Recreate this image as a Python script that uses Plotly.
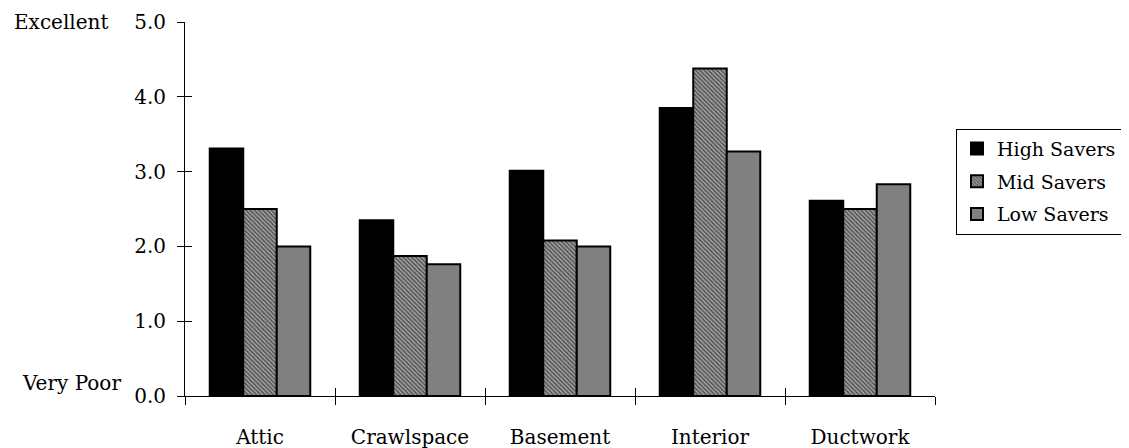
import plotly.graph_objects as go

categories = ['Attic', 'Crawlspace', 'Basement', 'Interior', 'Ductwork']
high_savers = [3.31, 2.35, 3.01, 3.85, 2.61]
mid_savers = [2.50, 1.87, 2.08, 4.38, 2.50]
low_savers = [2.00, 1.76, 2.00, 3.27, 2.83]
y_ticks = [0, 1, 2, 3, 4, 5]

font_name = 'DejaVu Serif'
edge = dict(color='black', width=2)

fig = go.Figure()
fig.add_trace(go.Bar(
    name='High Savers', x=categories, y=high_savers, legendgroup='high',
    marker=dict(color='black', line=edge)
))
fig.add_trace(go.Bar(
    name='Mid Savers', x=categories, y=mid_savers, legendgroup='mid',
    marker=dict(color='white', line=edge,
                pattern=dict(shape='\\', fgcolor='black', bgcolor='#a8a8a8',
                             size=3, solidity=0.55))
))
fig.add_trace(go.Bar(
    name='Low Savers', x=categories, y=low_savers, legendgroup='low',
    marker=dict(color='#808080', line=edge)
))

# the page body adds an 8px offset, so the figure is 8px smaller on each axis
fig.update_layout(
    width=1121, height=440,
    margin=dict(l=177, r=194, t=14, b=52, autoexpand=False),
    paper_bgcolor='white', plot_bgcolor='white',
    font=dict(family=font_name, size=20, color='black'),
    barmode='group', bargap=0.33, bargroupgap=0,
    showlegend=True,
    legend=dict(x=1.028, xanchor='left', y=0.573, yanchor='middle',
                bordercolor='black', borderwidth=1, bgcolor='white',
                font=dict(size=19), traceorder='grouped', tracegroupgap=5,
                itemwidth=30),
    xaxis=dict(type='category', showline=True, linecolor='black', linewidth=1,
               ticks='outside', ticklen=8, tickcolor='black', tickson='boundaries',
               ticklabelstandoff=23, showgrid=False, zeroline=False,
               range=[-0.5, 4.5], automargin=False),
    xaxis2=dict(overlaying='x', range=[-0.5, 4.5], showline=False,
                tickvals=[-0.5, 0.5, 1.5, 2.5, 3.5, 4.5], ticks='inside', ticklen=8,
                tickcolor='black', showticklabels=False, showgrid=False,
                zeroline=False, automargin=False),
    yaxis=dict(range=[0, 5], tickvals=y_ticks, tickformat='.1f', showline=True,
               linecolor='black', linewidth=1, ticks='outside', ticklen=7,
               tickcolor='black', showgrid=False, zeroline=False,
               ticklabelstandoff=7, automargin=False),
    yaxis2=dict(overlaying='y', range=[0, 5], tickvals=y_ticks, ticks='inside',
                ticklen=7, tickcolor='black', showticklabels=False, showgrid=False,
                zeroline=False, automargin=False),
)

# invisible trace so the overlay axes get drawn
fig.add_trace(go.Scatter(x=[0], y=[0], xaxis='x2', yaxis='y2', mode='markers',
                         marker=dict(opacity=0), showlegend=False, hoverinfo='skip'))

fig.add_annotation(text='Excellent', xref='paper', yref='paper', x=-0.1, y=1.0,
                   xanchor='right', yanchor='middle', showarrow=False)
fig.add_annotation(text='Very Poor', xref='paper', yref='paper', x=-0.083, y=0.034,
                   xanchor='right', yanchor='middle', showarrow=False)

fig.write_html('out.html')
